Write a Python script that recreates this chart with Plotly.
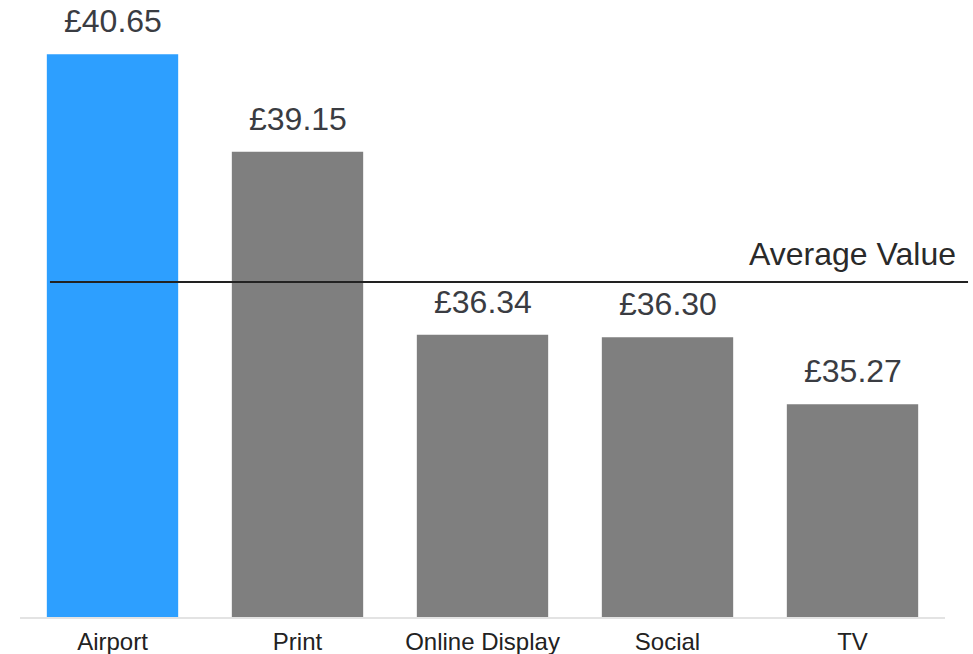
import plotly.graph_objects as go

categories = ["Airport", "Print", "Online Display", "Social", "TV"]
values = [40.65, 39.15, 36.34, 36.30, 35.27]
value_labels = ["£40.65", "£39.15", "£36.34", "£36.30", "£35.27"]
bar_colors = ["#2D9FFF", "#7F7F7F", "#7F7F7F", "#7F7F7F", "#7F7F7F"]
average_value = 37.15
average_label = "Average Value"

y_min = 32.0
y_max = 32.0 + 617 / 65.06

fig = go.Figure()
fig.add_trace(go.Bar(
    x=categories, y=values, marker=dict(color=bar_colors, line=dict(width=0)),
    width=0.71, hoverinfo="skip", showlegend=False,
))

for c, v, t in zip(categories, values, value_labels):
    fig.add_annotation(x=c, y=v, text=t, showarrow=False, yanchor="bottom",
                       yshift=13, font=dict(family="Liberation Sans", size=32, color="#3a3c42"))

fig.add_shape(type="line", xref="paper", yref="y", x0=0.0324, x1=1.0249,
              y0=average_value, y1=average_value, line=dict(color="#222222", width=2))
fig.add_annotation(xref="paper", yref="y", x=1.014, y=average_value, text=average_label,
                   showarrow=False, xanchor="right", yanchor="bottom", yshift=8,
                   font=dict(family="Liberation Sans", size=32, color="#2a2a2a"))

fig.update_layout(
    width=973, height=654,
    margin=dict(l=20, r=28, t=0, b=37, pad=0),
    paper_bgcolor="white", plot_bgcolor="white",
    xaxis=dict(showline=True, linecolor="#E3E3E3", linewidth=2, showgrid=False,
               ticks="", automargin=False, ticklabelstandoff=2,
               tickfont=dict(family="Liberation Sans", size=24, color="#222222"),
               range=[-0.5, 4.5], fixedrange=True),
    yaxis=dict(visible=False, range=[y_min, y_max], showgrid=False, zeroline=False,
               automargin=False, fixedrange=True),
)

fig.write_html("out.html", config={"displayModeBar": False},
               post_script="document.body.style.margin='0';document.body.style.overflow='hidden';")
